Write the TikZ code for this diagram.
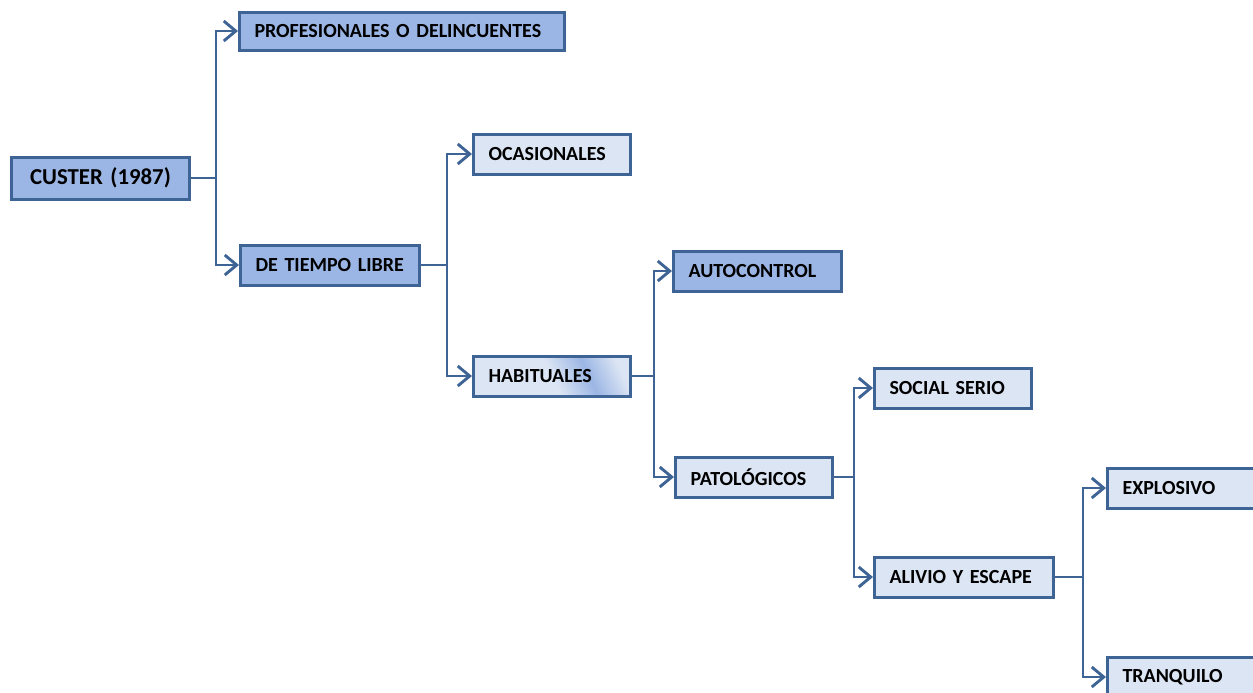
\documentclass[tikz,border=0pt]{standalone}
\usepackage{fontspec}
\setmainfont{Carlito}
\usetikzlibrary{arrows.meta,calc,positioning}
\definecolor{boxline}{HTML}{3E6496}
\definecolor{boxdark}{HTML}{9BB6E4}
\definecolor{boxlight}{HTML}{DCE5F4}
\pgfdeclarehorizontalshading{habshade}{100bp}{color(0bp)=(boxlight); color(50bp)=(boxlight); color(64bp)=(boxdark); color(77bp)=(boxlight); color(100bp)=(boxlight)}
\tikzset{
  >={Straight Barb[length=6pt,width=10pt]},
  line join=miter,
  box/.style={draw=boxline, line width=1.5pt, anchor=west, minimum height=20pt, inner xsep=7.5pt, inner ysep=0pt, align=left, text=black, font=\bfseries\fontsize{10}{12}\selectfont},
  darkbox/.style={box, fill=boxdark},
  lightbox/.style={box, fill=boxlight},
  link/.style={draw=boxline, line width=1.45pt},
  arrow/.style={link, ->}
}

\begin{document}
\begin{tikzpicture}[x=0.5pt, y=-0.5pt]
  \useasboundingbox (0,0) rectangle (1253,692);

  \node[darkbox, text width=74pt, align=center, minimum height=21pt, font=\bfseries\fontsize{11.4}{14}\selectfont] (custer) at (10,178) {CUSTER (1987)};
  \node[darkbox, text width=147.5pt, minimum height=19pt] (prof) at (238,31) {PROFESIONALES O DELINCUENTES};
  \node[darkbox, text width=74.5pt] (tiempo) at (239,265) {DE TIEMPO LIBRE};
  \node[lightbox, text width=63.5pt] (ocas) at (472,154) {OCASIONALES};
  \node[box, shading=habshade, shading angle=25, text width=63.5pt] (habit) at (472,376) {HABITUALES};
  \node[darkbox, text width=69pt] (auto) at (672,271) {AUTOCONTROL};
  \node[lightbox, text width=63.5pt] (pato) at (674,477) {PATOLÓGICOS};
  \node[lightbox, text width=63.5pt] (social) at (873,388) {SOCIAL SERIO};
  \node[lightbox, text width=74.5pt] (alivio) at (873,577) {ALIVIO Y ESCAPE};
  \node[lightbox, text width=92.5pt] (explo) at (1106,488) {EXPLOSIVO};
  \node[lightbox, text width=92.5pt] (tranq) at (1106,677) {TRANQUILO};

  \coordinate (b1) at ($(custer.east)+(25,0)$);
  \coordinate (b2) at ($(tiempo.east)+(26,0)$);
  \coordinate (b3) at ($(habit.east)+(22,0)$);
  \coordinate (b4) at ($(pato.east)+(20,0)$);
  \coordinate (b5) at ($(alivio.east)+(28,0)$);

  \draw[link] (custer.east) -- (b1);
  \draw[arrow] (b1) |- (prof.west);
  \draw[arrow] (b1) |- (tiempo.west);

  \draw[link] (tiempo.east) -- (b2);
  \draw[arrow] (b2) |- (ocas.west);
  \draw[arrow] (b2) |- (habit.west);

  \draw[link] (habit.east) -- (b3);
  \draw[arrow] (b3) |- (auto.west);
  \draw[arrow] (b3) |- (pato.west);

  \draw[link] (pato.east) -- (b4);
  \draw[arrow] (b4) |- (social.west);
  \draw[arrow] (b4) |- (alivio.west);

  \draw[link] (alivio.east) -- (b5);
  \draw[arrow] (b5) |- (explo.west);
  \draw[arrow] (b5) |- (tranq.west);
\end{tikzpicture}
\end{document}
